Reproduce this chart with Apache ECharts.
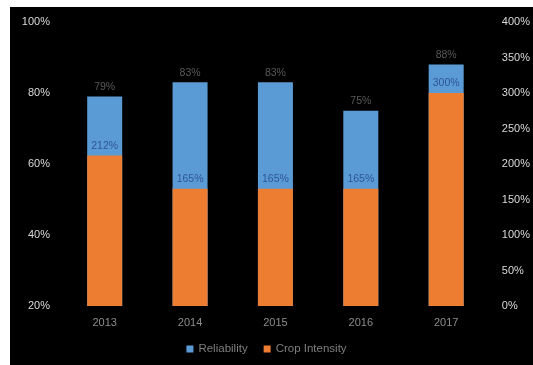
<!DOCTYPE html>
<html>
<head>
<meta charset="utf-8">
<script src="https://cdn.jsdelivr.net/npm/echarts@6/dist/echarts.min.js"></script>
<style>
  html, body { margin: 0; padding: 0; background: #ffffff; overflow: hidden; }
  #chart { width: 533px; height: 365px; }
</style>
</head>
<body>
<div id="chart"></div>
<script>
// Yearly reliability (left axis) and crop intensity (right axis), in percent
const years = ['2013', '2014', '2015', '2016', '2017'];
const reliability = [79, 83, 83, 75, 88];
const cropIntensity = [212, 165, 165, 165, 300];
const leftTicks = ['20%', '40%', '60%', '80%', '100%'];
const rightTicks = ['0%', '50%', '100%', '150%', '200%', '250%', '300%', '350%', '400%'];

const chart = echarts.init(document.getElementById('chart'), null, { renderer: 'canvas' });
const font = '"Liberation Sans", Arial, sans-serif';

chart.setOption({
  backgroundColor: '#000000',
  animation: false,
  graphic: [
    { type: 'rect', left: 0, top: 0, shape: { width: 10, height: 365 }, style: { fill: '#ffffff' }, z: 100 },
    { type: 'rect', left: 0, top: 0, shape: { width: 533, height: 7 }, style: { fill: '#ffffff' }, z: 100 }
  ],
  grid: { left: 62, right: 43, top: 22, bottom: 59 },
  legend: {
    bottom: 5,
    left: 'center',
    itemWidth: 7,
    itemHeight: 7,
    itemGap: 16,
    icon: 'rect',
    textStyle: { color: '#7f7f7f', fontSize: 11.5, fontFamily: font },
    data: ['Reliability', 'Crop Intensity']
  },
  xAxis: {
    type: 'category',
    data: years,
    axisLine: { show: false },
    axisTick: { show: false },
    axisLabel: { color: '#8c8c8c', fontSize: 11, fontFamily: font, margin: 11 }
  },
  yAxis: [
    {
      type: 'value',
      min: 20, max: 100, interval: 20,
      splitLine: { show: false },
      axisLine: { show: false },
      axisTick: { show: false },
      axisLabel: {
        color: '#d9d9d9', fontSize: 11, fontFamily: font, margin: 12,
        formatter: v => leftTicks[(v - 20) / 20]
      }
    },
    {
      type: 'value',
      min: 0, max: 400, interval: 50,
      splitLine: { show: false },
      axisLine: { show: false },
      axisTick: { show: false },
      axisLabel: {
        color: '#d9d9d9', fontSize: 11, fontFamily: font, margin: 13,
        formatter: v => rightTicks[v / 50]
      }
    }
  ],
  series: [
    {
      name: 'Reliability',
      type: 'bar',
      yAxisIndex: 0,
      data: reliability,
      barWidth: 35,
      barGap: '-100%',
      itemStyle: { color: '#5b9bd5' },
      label: {
        show: true, position: 'top', distance: 4,
        color: '#595959', fontSize: 10.5, fontFamily: font,
        formatter: p => p.value + '%'
      },
      z: 2
    },
    {
      name: 'Crop Intensity',
      type: 'bar',
      yAxisIndex: 1,
      data: cropIntensity,
      barWidth: 35,
      barGap: '-100%',
      itemStyle: { color: '#ed7d31' },
      label: {
        show: true, position: 'top', distance: 4,
        color: '#2f5597', fontSize: 10.5, fontFamily: font,
        formatter: p => p.value + '%'
      },
      z: 3
    }
  ]
});
</script>
</body>
</html>
